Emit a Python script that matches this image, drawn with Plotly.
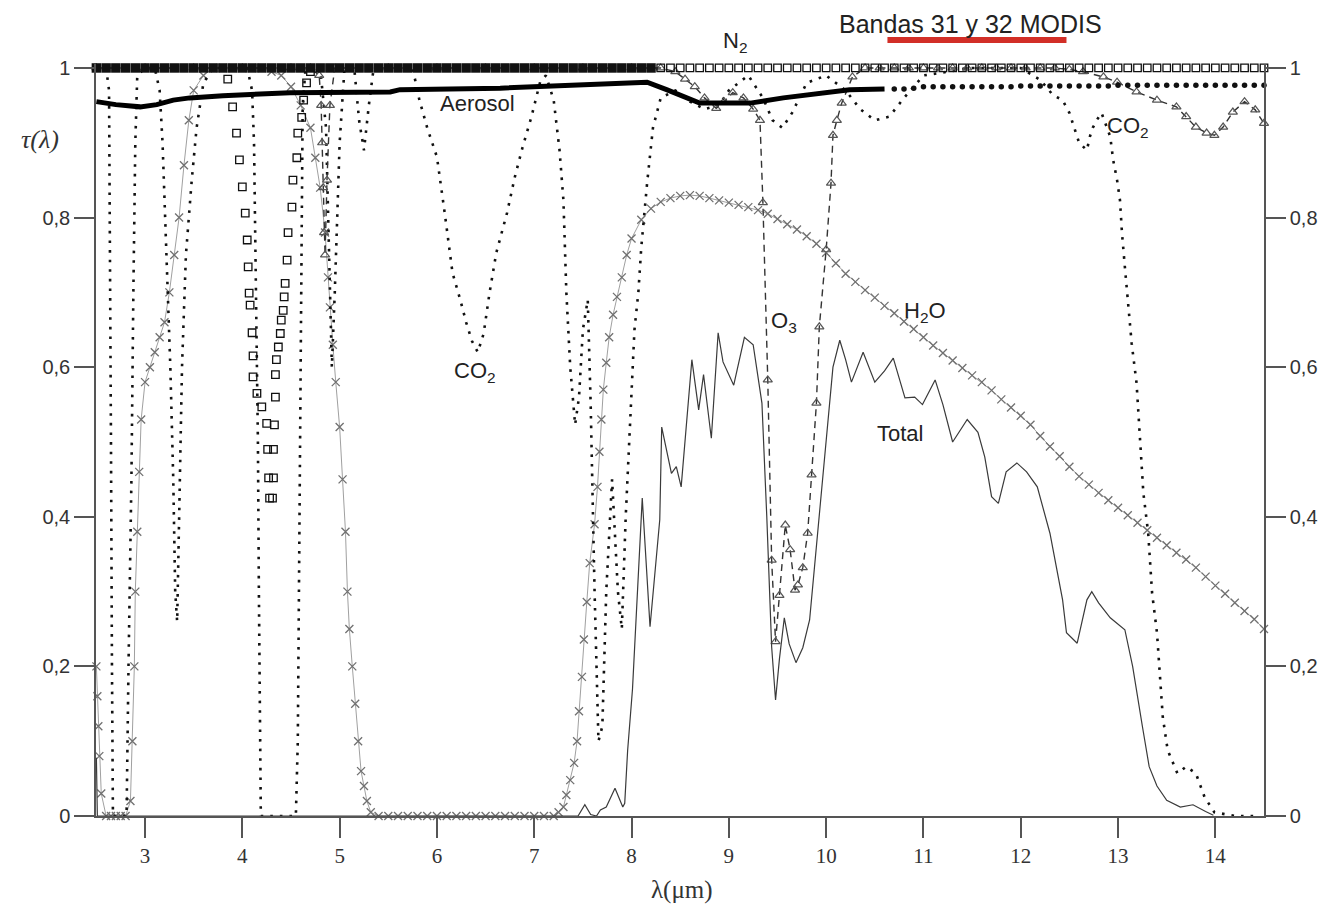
import plotly.graph_objects as go

# ---------------- data ----------------
# left part of the top where the markers merge into a solid band at tau = 1
n2_band_x = [2.5, 2.6, 2.7, 2.8, 2.9, 3.0, 3.1, 3.2, 3.3, 3.4, 3.5, 3.6, 3.7, 3.8,
             3.9, 4.0, 4.1, 4.2, 4.3, 4.4, 4.5, 4.6, 4.7,
             4.8, 4.9, 5.0, 5.1, 5.2, 5.3, 5.4, 5.5, 5.6, 5.7, 5.8, 5.9, 6.0, 6.1, 6.2,
             6.3, 6.4, 6.5, 6.6, 6.7, 6.8, 6.9, 7.0, 7.1, 7.2, 7.3, 7.4, 7.5, 7.6, 7.7,
             7.8, 7.9, 8.0, 8.1, 8.2]
n2_band_y = [1.0, 1.0, 1.0, 1.0, 1.0, 1.0, 1.0, 1.0, 1.0, 1.0, 1.0, 1.0, 1.0, 1.0,
             1.0, 1.0, 1.0, 1.0, 1.0, 1.0, 1.0, 1.0, 1.0,
             1.0, 1.0, 1.0, 1.0, 1.0, 1.0, 1.0, 1.0, 1.0, 1.0, 1.0, 1.0, 1.0, 1.0, 1.0,
             1.0, 1.0, 1.0, 1.0, 1.0, 1.0, 1.0, 1.0, 1.0, 1.0, 1.0, 1.0, 1.0, 1.0, 1.0,
             1.0, 1.0, 1.0, 1.0, 1.0]
# N2: absorption dip near 4.3 um and the open squares on the right
n2_x = [3.85, 3.9, 3.94, 3.97, 4.0, 4.03, 4.05, 4.06, 4.07, 4.08, 4.1, 4.11, 4.11, 4.15, 4.2,
        4.25, 4.26, 4.27, 4.28, 4.31, 4.32, 4.32, 4.33, 4.34, 4.34, 4.35, 4.37, 4.39, 4.4,
        4.42, 4.43, 4.44, 4.46, 4.47, 4.51, 4.52, 4.56, 4.57, 4.61, 4.63, 4.66, 4.7,
        8.3, 8.4, 8.5, 8.6, 8.7, 8.8, 8.9, 9.0, 9.1, 9.2, 9.3, 9.4, 9.5,
        9.6, 9.7, 9.8, 9.9, 10.0, 10.1, 10.2, 10.3, 10.4, 10.5, 10.6, 10.7, 10.8, 10.9,
        11.0, 11.1, 11.2, 11.3, 11.4, 11.5, 11.6, 11.7, 11.8, 11.9, 12.0, 12.1, 12.2,
        12.3, 12.4, 12.5, 12.6, 12.7, 12.8, 12.9, 13.0, 13.1, 13.2, 13.3, 13.4, 13.5,
        13.6, 13.7, 13.8, 13.9, 14.0, 14.1, 14.2, 14.3, 14.4, 14.5]
n2_y = [0.985, 0.948, 0.913, 0.877, 0.841, 0.806, 0.77, 0.734, 0.699, 0.683, 0.646, 0.615, 0.587, 0.565, 0.547,
        0.525, 0.49, 0.452, 0.425, 0.425, 0.452, 0.49, 0.523, 0.56, 0.59, 0.61, 0.627, 0.645, 0.663,
        0.676, 0.694, 0.712, 0.743, 0.78, 0.814, 0.85, 0.88, 0.913, 0.934, 0.957, 0.98, 0.995,
        1.0, 1.0, 1.0, 1.0, 1.0, 1.0, 1.0, 1.0, 1.0, 1.0, 1.0, 1.0, 1.0,
        1.0, 1.0, 1.0, 1.0, 1.0, 1.0, 1.0, 1.0, 1.0, 1.0, 1.0, 1.0, 1.0, 1.0,
        1.0, 1.0, 1.0, 1.0, 1.0, 1.0, 1.0, 1.0, 1.0, 1.0, 1.0, 1.0, 1.0,
        1.0, 1.0, 1.0, 1.0, 1.0, 1.0, 1.0, 1.0, 1.0, 1.0, 1.0, 1.0, 1.0,
        1.0, 1.0, 1.0, 1.0, 1.0, 1.0, 1.0, 1.0, 1.0, 1.0]

aerosol_x = [2.5, 2.7, 2.95, 3.12, 3.29, 3.46, 3.8, 4.49, 5.52, 5.62, 6.65, 7.33, 8.16,
             8.36, 8.55, 8.7, 9.22, 9.56, 10.24, 10.6]
aerosol_y = [0.955, 0.951, 0.948, 0.951, 0.957, 0.96, 0.963, 0.967, 0.968, 0.971, 0.973,
             0.977, 0.981, 0.971, 0.96, 0.953, 0.953, 0.96, 0.971, 0.972]
aerosol_dots_x = [10.7, 10.8, 10.9, 11.0, 11.1, 11.2, 11.3, 11.4, 11.5, 11.6, 11.7, 11.8,
                  11.9, 12.0, 12.1, 12.2, 12.3, 12.4, 12.5, 12.6, 12.7, 12.8, 12.9, 13.0,
                  13.1, 13.2, 13.3, 13.4, 13.5, 13.6, 13.7, 13.8, 13.9, 14.0, 14.1, 14.2,
                  14.3, 14.4, 14.5]
aerosol_dots_y = [0.972, 0.972, 0.973, 0.975, 0.975, 0.975, 0.975, 0.975, 0.975, 0.975,
                  0.975, 0.975, 0.975, 0.976, 0.976, 0.976, 0.976, 0.976, 0.976, 0.976,
                  0.976, 0.976, 0.976, 0.977, 0.977, 0.977, 0.977, 0.977, 0.977, 0.977,
                  0.977, 0.977, 0.977, 0.977, 0.977, 0.977, 0.977, 0.977, 0.977]

co2_x = [2.5, 2.6, 2.63, 2.64, 2.65, 2.66, 2.67, 2.75, 2.81, 2.83, 2.86, 2.88, 2.9, 2.92,
         3.0, 3.1, 3.15, 3.18, 3.22, 3.26, 3.29, 3.31, 3.33, 3.36, 3.38, 3.42, 3.48, 3.53,
         3.6, 3.7, 3.9, 4.05, 4.1, 4.12, 4.14, 4.16, 4.17, 4.18, 4.19, 4.35, 4.55, 4.57,
         4.58, 4.6, 4.61, 4.62, 4.65, 4.8, 4.86, 4.89, 4.92, 4.95, 5.0, 5.05, 5.15, 5.2,
         5.25, 5.3, 5.35, 5.75, 5.82, 5.9, 6.0, 6.08, 6.16, 6.24, 6.3, 6.36, 6.42, 6.48,
         6.54, 6.61, 6.72, 6.8, 6.88, 6.97, 7.06, 7.12, 7.2, 7.26, 7.3, 7.33, 7.37, 7.42,
         7.46, 7.5, 7.55, 7.58, 7.62, 7.66, 7.7, 7.74, 7.8, 7.86, 7.9, 7.94, 7.98, 8.03,
         8.07, 8.1, 8.16, 8.22, 8.3, 8.45, 8.6, 8.75, 8.9, 9.0, 9.2, 9.35, 9.45, 9.55,
         9.65, 9.8, 10.0, 10.2, 10.35, 10.5, 10.65, 10.8, 11.0, 11.5, 12.0, 12.2, 12.33,
         12.43, 12.5, 12.56, 12.6, 12.68, 12.71, 12.74, 12.78, 12.83, 12.92, 12.95, 12.99,
         13.02, 13.04, 13.07, 13.1, 13.14, 13.19, 13.22, 13.26, 13.31, 13.35, 13.4, 13.43,
         13.46, 13.51, 13.61, 13.7, 13.8, 13.89, 13.99, 14.2, 14.45]
co2_y = [1.0, 1.0, 0.97, 0.8, 0.5, 0.2, 0.0, 0.0, 0.0, 0.2, 0.45, 0.7, 0.9, 0.99,
         1.0, 1.0, 0.97, 0.9, 0.75, 0.6, 0.45, 0.3, 0.26, 0.45, 0.6, 0.75, 0.85, 0.92,
         0.98, 1.0, 1.0, 1.0, 0.97, 0.9, 0.7, 0.5, 0.3, 0.1, 0.0, 0.0, 0.0, 0.1,
         0.3, 0.6, 0.8, 0.95, 1.0, 1.0, 0.92, 0.75, 0.6, 0.7, 0.9, 1.0, 1.0, 0.93,
         0.89, 0.95, 1.0, 1.0, 0.957, 0.92, 0.881, 0.806, 0.726, 0.69, 0.66, 0.635, 0.62, 0.645,
         0.699, 0.753, 0.806, 0.854, 0.894, 0.934, 0.981, 0.99, 0.957, 0.89, 0.823, 0.7, 0.6, 0.523,
         0.56, 0.65, 0.69, 0.55, 0.3, 0.1, 0.12, 0.3, 0.45, 0.3, 0.25, 0.4, 0.52, 0.65,
         0.7, 0.76, 0.846, 0.92, 0.96, 0.97, 0.955, 0.945, 0.95, 0.97, 0.99, 0.96, 0.93, 0.92,
         0.94, 0.98, 0.99, 0.97, 0.945, 0.93, 0.935, 0.96, 0.99, 1.0, 1.0, 0.984, 0.964,
         0.957, 0.94, 0.917, 0.9, 0.89, 0.908, 0.92, 0.93, 0.94, 0.908, 0.877, 0.85,
         0.823, 0.78, 0.734, 0.694, 0.632, 0.579, 0.512, 0.432, 0.378, 0.298, 0.245, 0.186,
         0.132, 0.088, 0.057, 0.066, 0.057, 0.025, 0.005, 0.0, 0.0]

h2o_x = [2.5, 2.51, 2.52, 2.53, 2.55, 2.6, 2.65, 2.7, 2.75, 2.8, 2.85, 2.87, 2.89, 2.9,
         2.92, 2.94, 2.96, 3.0, 3.05, 3.1, 3.15, 3.2, 3.25, 3.3, 3.35, 3.4, 3.45, 3.5, 3.6,
         3.7, 3.8, 3.9, 4.0, 4.1, 4.2, 4.3, 4.4, 4.5, 4.6, 4.7, 4.75, 4.8, 4.85, 4.88, 4.9,
         4.93, 4.96, 5.0, 5.03, 5.06, 5.08, 5.1, 5.13, 5.16, 5.19, 5.22, 5.25, 5.28, 5.32,
         5.4, 5.5, 5.6, 5.7, 5.8, 5.9, 6.0, 6.1, 6.2, 6.3, 6.4, 6.5, 6.6, 6.7, 6.8, 6.9,
         7.0, 7.1, 7.2, 7.25, 7.3, 7.33, 7.37, 7.41, 7.44, 7.46, 7.49, 7.51, 7.54, 7.57,
         7.62, 7.65, 7.67, 7.69, 7.71, 7.74, 7.77, 7.81, 7.85, 7.9, 7.95, 8.0, 8.1, 8.2,
         8.3, 8.4, 8.5, 8.6, 8.7, 8.8, 8.9, 9.0, 9.1, 9.2, 9.3, 9.4, 9.5, 9.6, 9.7, 9.8,
         9.9, 10.0, 10.1, 10.2, 10.3, 10.4, 10.5, 10.6, 10.7, 10.8, 10.9, 11.0, 11.1, 11.2,
         11.3, 11.4, 11.5, 11.6, 11.7, 11.8, 11.9, 12.0, 12.1, 12.2, 12.3, 12.4, 12.5, 12.6,
         12.7, 12.8, 12.9, 13.0, 13.1, 13.2, 13.3, 13.4, 13.5, 13.6, 13.7, 13.8, 13.9, 14.0,
         14.1, 14.2, 14.3, 14.4, 14.5]
h2o_y = [0.2, 0.16, 0.12, 0.08, 0.03, 0.0, 0.0, 0.0, 0.0, 0.0, 0.02, 0.1, 0.2, 0.3,
         0.38, 0.46, 0.53, 0.58, 0.6, 0.62, 0.64, 0.66, 0.7, 0.75, 0.8, 0.87, 0.93, 0.97, 0.99,
         1.0, 1.0, 1.0, 1.0, 1.0, 1.0, 0.995, 0.99, 0.975, 0.95, 0.92, 0.88, 0.84, 0.78, 0.72, 0.68,
         0.63, 0.58, 0.52, 0.45, 0.38, 0.3, 0.25, 0.2, 0.15, 0.1, 0.06, 0.04, 0.02, 0.005,
         0.0, 0.0, 0.0, 0.0, 0.0, 0.0, 0.0, 0.0, 0.0, 0.0, 0.0, 0.0, 0.0, 0.0, 0.0, 0.0,
         0.0, 0.0, 0.0, 0.005, 0.012, 0.028, 0.048, 0.071, 0.1, 0.14, 0.186, 0.236, 0.286, 0.338,
         0.39, 0.44, 0.487, 0.53, 0.57, 0.606, 0.64, 0.67, 0.694, 0.72, 0.75, 0.772, 0.797, 0.812,
         0.821, 0.826, 0.829, 0.83, 0.829, 0.826, 0.823, 0.82, 0.817, 0.814, 0.81, 0.805, 0.798, 0.791, 0.784, 0.775,
         0.765, 0.753, 0.739, 0.725, 0.714, 0.703, 0.693, 0.682, 0.672, 0.661, 0.651, 0.64, 0.629, 0.619,
         0.609, 0.599, 0.589, 0.58, 0.569, 0.557, 0.546, 0.535, 0.523, 0.508, 0.494, 0.481, 0.467, 0.454,
         0.443, 0.432, 0.422, 0.412, 0.402, 0.392, 0.382, 0.372, 0.362, 0.352, 0.343, 0.332, 0.32, 0.308,
         0.297, 0.285, 0.274, 0.263, 0.25]

o3_x = [2.5, 3.0, 3.5, 4.0, 4.5, 4.7, 4.79, 4.81, 4.82, 4.83, 4.84, 4.85, 4.87, 4.9, 4.95,
        5.5, 6.0, 6.5, 7.0, 7.5, 8.0, 8.3, 8.45, 8.55, 8.65, 8.75, 8.87, 8.95, 9.04, 9.15,
        9.25, 9.32, 9.35, 9.4, 9.44, 9.48, 9.52, 9.58, 9.63, 9.68, 9.71, 9.76, 9.81, 9.85,
        9.9, 9.93, 10.0, 10.05, 10.07, 10.11, 10.16, 10.27, 10.4, 10.55, 10.7, 10.85, 11.0,
        11.15, 11.3, 11.45, 11.6, 11.75, 11.9, 12.05, 12.2, 12.35, 12.5, 12.64, 12.85, 12.99,
        13.19, 13.4, 13.6, 13.7, 13.8, 13.91, 13.99, 14.08, 14.18, 14.3, 14.41, 14.5]
o3_y = [1.0, 1.0, 1.0, 1.0, 1.0, 1.0, 0.99, 0.95, 0.9, 0.84, 0.78, 0.75, 0.85, 0.95, 1.0,
        1.0, 1.0, 1.0, 1.0, 1.0, 1.0, 1.0, 0.995, 0.985, 0.975, 0.96, 0.946, 0.955, 0.967, 0.96,
        0.945, 0.93, 0.82, 0.583, 0.342, 0.233, 0.295, 0.389, 0.356, 0.302, 0.309, 0.332, 0.378, 0.456,
        0.552, 0.654, 0.757, 0.846, 0.91, 0.93, 0.953, 0.988, 1.0, 1.0, 1.0, 1.0, 1.0,
        1.0, 1.0, 1.0, 1.0, 1.0, 1.0, 1.0, 1.0, 1.0, 0.998, 0.995, 0.988, 0.981,
        0.968, 0.957, 0.948, 0.935, 0.921, 0.913, 0.91, 0.921, 0.941, 0.955, 0.944, 0.926]

total_x = [2.5, 2.51, 7.45, 7.52, 7.58, 7.64, 7.68, 7.74, 7.83, 7.91, 7.93, 7.96, 8.01,
           8.11, 8.19, 8.29, 8.31, 8.41, 8.46, 8.51, 8.62, 8.69, 8.74, 8.82, 8.89, 8.94,
           9.05, 9.16, 9.25, 9.34, 9.39, 9.44, 9.48, 9.52, 9.57, 9.62, 9.69, 9.76, 9.83,
           9.9, 10.0, 10.07, 10.14, 10.2, 10.26, 10.38, 10.5, 10.6, 10.69, 10.81, 10.91,
           10.99, 11.12, 11.2, 11.3, 11.45, 11.56, 11.63, 11.7, 11.77, 11.85, 11.96, 12.06,
           12.17, 12.3, 12.43, 12.47, 12.58, 12.68, 12.73, 12.8, 12.92, 13.07, 13.15, 13.25,
           13.32, 13.4, 13.5, 13.64, 13.77, 13.9, 13.98]
total_y = [0.078, 0.0, 0.0, 0.015, 0.002, 0.0, 0.008, 0.012, 0.037, 0.012, 0.017, 0.088, 0.17,
           0.425, 0.253, 0.396, 0.52, 0.458, 0.467, 0.44, 0.61, 0.543, 0.59, 0.505, 0.646, 0.607,
           0.576, 0.64, 0.63, 0.552, 0.4, 0.226, 0.155, 0.21, 0.265, 0.23, 0.205, 0.225, 0.262,
           0.36, 0.507, 0.6, 0.636, 0.61, 0.58, 0.62, 0.58, 0.595, 0.612, 0.559, 0.56,
           0.55, 0.583, 0.55, 0.5, 0.53, 0.513, 0.48, 0.427, 0.418, 0.46, 0.472, 0.46,
           0.44, 0.378, 0.289, 0.245, 0.231, 0.289, 0.3, 0.285, 0.265, 0.249, 0.2, 0.12,
           0.066, 0.04, 0.021, 0.012, 0.015, 0.006, 0.001]

x_ticks = [3, 4, 5, 6, 7, 8, 9, 10, 11, 12, 13, 14]
y_ticks = [0, 0.2, 0.4, 0.6, 0.8, 1]
modis_band = [10.63, 12.47]

# ---------------- figure ----------------
fig = go.Figure()

fig.add_trace(go.Scatter(x=h2o_x, y=h2o_y, mode="lines+markers", name="H2O",
                         line=dict(color="#a0a0a0", width=1),
                         marker=dict(symbol="x-thin-open", size=8, color="#707070",
                                     line=dict(color="#707070", width=1.3)),
                         cliponaxis=False))
fig.add_trace(go.Scatter(x=co2_x, y=co2_y, mode="lines", name="CO2",
                         line=dict(color="#111111", width=2.6, dash="2.6px,7px")))
fig.add_trace(go.Scatter(x=o3_x, y=o3_y, mode="lines+markers", name="O3",
                         line=dict(color="#333333", width=1.4, dash="7px,5px"),
                         marker=dict(symbol="triangle-up-open", size=8, color="#555555",
                                     line=dict(color="#555555", width=1.2)),
                         cliponaxis=False))
fig.add_trace(go.Scatter(x=total_x, y=total_y, mode="lines", name="Total",
                         line=dict(color="#3a3a3a", width=1.2)))
fig.add_trace(go.Scatter(x=aerosol_x, y=aerosol_y, mode="lines", name="Aerosol",
                         line=dict(color="#000000", width=5)))
fig.add_trace(go.Scatter(x=aerosol_dots_x, y=aerosol_dots_y, mode="markers", name="Aerosol",
                         marker=dict(symbol="circle", size=5.5, color="#111111"),
                         showlegend=False, cliponaxis=False))
fig.add_trace(go.Scatter(x=n2_band_x, y=n2_band_y, mode="markers", name="N2", yaxis="y2",
                         marker=dict(symbol="square", size=9.5, color="#111111",
                                     line=dict(width=0)),
                         showlegend=False, cliponaxis=False))
fig.add_trace(go.Scatter(x=n2_x, y=n2_y, mode="markers", name="N2", yaxis="y2",
                         marker=dict(symbol="square-open", size=7.5, color="#111111",
                                     line=dict(color="#111111", width=1.3)),
                         cliponaxis=False))

axis_color = "#555555"
yr = [0, 1.0053]
fig.update_layout(
    width=1333, height=908,
    margin=dict(l=88, r=77, t=56, b=100),
    paper_bgcolor="white", plot_bgcolor="white",
    showlegend=False,
    separators=",.",
    xaxis=dict(range=[2.496, 14.5], tickvals=x_ticks, ticks="outside", ticklen=20,
               tickwidth=1.5, tickcolor=axis_color, showline=True, linecolor=axis_color,
               linewidth=1.5, showgrid=False, zeroline=False,
               tickfont=dict(family="Liberation Serif", size=21, color="#333333")),
    yaxis=dict(range=yr, tickvals=y_ticks, ticks="outside", ticklen=20, tickwidth=1.5,
               tickcolor=axis_color, showline=True, linecolor=axis_color, linewidth=1.5,
               showgrid=False, zeroline=False,
               tickfont=dict(family="Liberation Sans", size=20, color="#333333")),
    yaxis2=dict(range=yr, tickvals=y_ticks, overlaying="y", side="right", anchor="x",
                ticks="outside", ticklen=20, tickwidth=1.5, tickcolor=axis_color,
                showline=True, linecolor=axis_color, linewidth=1.5, showgrid=False,
                zeroline=False,
                tickfont=dict(family="Liberation Sans", size=20, color="#333333")),
)

# red MODIS band marker
fig.add_shape(type="line", xref="x", yref="paper", x0=modis_band[0], x1=modis_band[1],
              y0=1.032, y1=1.032, line=dict(color="#d22f27", width=6))

lab = dict(family="Liberation Sans", size=22, color="#222222")
ann = [
    dict(text="N<sub>2</sub>", x=9.06, y=1.029, xref="x", yref="paper", font=lab),
    dict(text="Aerosol", x=6.42, y=0.953, xref="x", yref="y", font=lab),
    dict(text="CO<sub>2</sub>", x=6.39, y=0.594, xref="x", yref="y", font=lab),
    dict(text="O<sub>3</sub>", x=9.57, y=0.66, xref="x", yref="y", font=lab),
    dict(text="H<sub>2</sub>O", x=11.02, y=0.674, xref="x", yref="y", font=lab),
    dict(text="Total", x=10.76, y=0.511, xref="x", yref="y", font=lab),
    dict(text="CO<sub>2</sub>", x=13.1, y=0.921, xref="x", yref="y", font=lab),
    dict(text="<i>τ(λ)</i>", x=-0.048, y=0.899, xref="paper", yref="paper",
         font=dict(family="Liberation Serif", size=26, color="#333333")),
    dict(text="λ(μm)", x=8.52, y=-0.098, xref="x", yref="paper",
         font=dict(family="Liberation Serif", size=25, color="#333333")),
]
for a in ann:
    fig.add_annotation(showarrow=False, xanchor="center", yanchor="middle", **a)
fig.add_annotation(text="Bandas 31 y 32 MODIS", x=11.48, y=1.0745, xref="x", yref="paper",
                   xanchor="center", yanchor="top", showarrow=False,
                   font=dict(family="Liberation Sans", size=25, color="#222222"))

fig.write_html("out.html")
